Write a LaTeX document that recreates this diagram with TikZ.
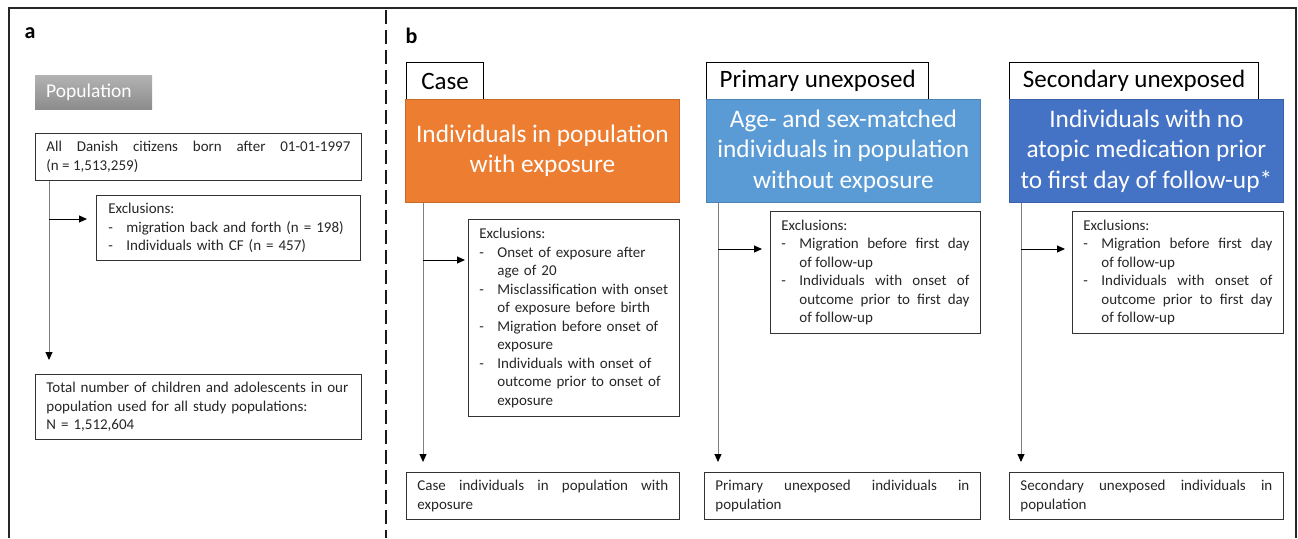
\documentclass[tikz,border=0pt]{standalone}
\usepackage{fontspec}
\setmainfont{Carlito}
\usetikzlibrary{arrows.meta}

\definecolor{caseorange}{HTML}{ED7D31}
\definecolor{primblue}{HTML}{5B9BD5}
\definecolor{secblue}{HTML}{4472C4}

\newcommand{\exitem}[1]{\par{\leftskip=18pt\noindent\llap{\hbox to 18pt{-\hfil}}#1\par}}
\newcommand{\nl}{\hfil\break}

\tikzset{
    box/.style={draw=black!80, line width=0.8pt, anchor=north west, inner xsep=11pt, inner ysep=4pt,
        text=black!85, font=\fontsize{15}{18.5}\selectfont},
    head/.style={draw=black, line width=1.3pt, fill=white, anchor=north west, inner sep=0pt,
        minimum height=37pt, font=\fontsize{25}{30}\selectfont},
    group/.style={anchor=north west, align=center, text=white, inner sep=0pt, line width=0.8pt,
        minimum width=274pt, minimum height=103pt, font=\fontsize{25.3}{30.5}\selectfont},
    flow/.style={draw=black!50, line width=1pt, -{Triangle[length=8pt, width=7pt, black]}},
    excl/.style={draw=black, line width=1pt, -{Triangle[length=8pt, width=7pt]}},
    panel/.style={anchor=base west, font=\fontsize{22}{26}\selectfont\bfseries}
}

\begin{document}
\begin{tikzpicture}[x=1pt, y=-1pt]
\useasboundingbox (0,0) rectangle (1298,538);

% frame and divider
\draw[black!85, line width=2pt] (9,538) -- (9,8) -- (1296,8) -- (1296,538);
\draw[black!90, line width=2.5pt, dash pattern=on 14pt off 6pt] (386,10) -- (386,538);

\node[panel] (la) at (21,38) {a};
\node[panel] (lb) at (402,43) {b};

%%% panel a
\node[anchor=north west, minimum width=117pt, minimum height=34pt, inner xsep=11pt, inner ysep=0pt,
    text width=95pt, top color=black!30, bottom color=black!45, text=white,
    font=\fontsize{19.5}{23}\selectfont] (pop) at (35,75) {Population};

\node[box, text width=304pt, minimum height=47pt, align=justify] (all) at (35,133)
    {All Danish citizens born after 01-01-1997\linebreak (n = 1,513,259)};
\node[box, text width=240pt, minimum height=65pt, inner xsep=12pt] (exa) at (96,195)
    {Exclusions:\exitem{migration back and forth (n = 198)}\exitem{Individuals with CF (n = 457)}};
\node[box, text width=304pt, minimum height=65pt, align=left] (tot) at (35,374)
    {Total number of children and adolescents in our\\population used for all study populations:\\N = 1,512,604};

\coordinate (a1) at ([xshift=14pt]all.south west);
\coordinate (a2) at (49,219);
\draw[flow, shorten >=14pt] (a1) -- (a1 |- tot.north);
\draw[excl, shorten >=9pt] (a2) -- (a2 -| exa.west);

%%% panel b: case
\node[head, minimum width=77pt] (casehd) at (406,62) {Case};
\node[group, fill=caseorange, draw=caseorange!85!black] (casegrp) at (405,99)
    {Individuals in population\\with exposure};
\node[box, text width=189pt, minimum height=197pt, inner ysep=3pt] (caseexc) at (468,219)
    {Exclusions:\exitem{Onset of exposure after\nl age of 20}%
    \exitem{Misclassification with onset\nl of exposure before birth}%
    \exitem{Migration before onset of\nl exposure}%
    \exitem{Individuals with onset of\nl outcome prior to onset of\nl exposure}};
\node[box, text width=251pt, minimum height=47pt, align=justify] (casefin) at (406,472)
    {Case individuals in population with\linebreak exposure};

\coordinate (c1) at ([xshift=18pt]casegrp.south west);
\coordinate (c2) at (423,260);
\draw[flow, shorten >=10pt] (c1) -- (c1 |- casefin.north);
\draw[excl, shorten >=3pt] (c2) -- (c2 -| caseexc.west);

%%% panel b: primary unexposed
\node[head, minimum width=222pt] (primhd) at (706,62) {Primary unexposed};
\node[group, fill=primblue, draw=primblue!85!black] (primgrp) at (706,99)
    {Age- and sex-matched\\individuals in population\\without exposure};
\node[box, text width=188pt, minimum height=122pt, align=justify] (primexc) at (770,211)
    {Exclusions:\exitem{Migration before first day\linebreak of follow-up}%
    \exitem{Individuals with onset of\linebreak outcome prior to first day\linebreak of follow-up}};
\node[box, text width=254pt, minimum height=47pt, align=justify] (primfin) at (704,472)
    {Primary unexposed individuals in\linebreak population};

\coordinate (p1) at ([xshift=12pt]primgrp.south west);
\coordinate (p2) at (718,249);
\draw[flow, shorten >=10pt] (p1) -- (p1 |- primfin.north);
\draw[excl, shorten >=8pt] (p2) -- (p2 -| primexc.west);

%%% panel b: secondary unexposed
\node[head, minimum width=249pt] (sechd) at (1009,62) {Secondary unexposed};
\node[group, fill=secblue, draw=secblue!85!black] (secgrp) at (1009,99)
    {Individuals with no\\atopic medication prior\\to first day of follow-up*};
\node[box, text width=189pt, minimum height=122pt, align=justify] (secexc) at (1072,211)
    {Exclusions:\exitem{Migration before first day\linebreak of follow-up}%
    \exitem{Individuals with onset of\linebreak outcome prior to first day\linebreak of follow-up}};
\node[box, text width=252pt, minimum height=47pt, align=justify] (secfin) at (1009,472)
    {Secondary unexposed individuals in\linebreak population};

\coordinate (s1) at ([xshift=12pt]secgrp.south west);
\coordinate (s2) at (1021,249);
\draw[flow, shorten >=10pt] (s1) -- (s1 |- secfin.north);
\draw[excl, shorten >=7pt] (s2) -- (s2 -| secexc.west);
\end{tikzpicture}
\end{document}
